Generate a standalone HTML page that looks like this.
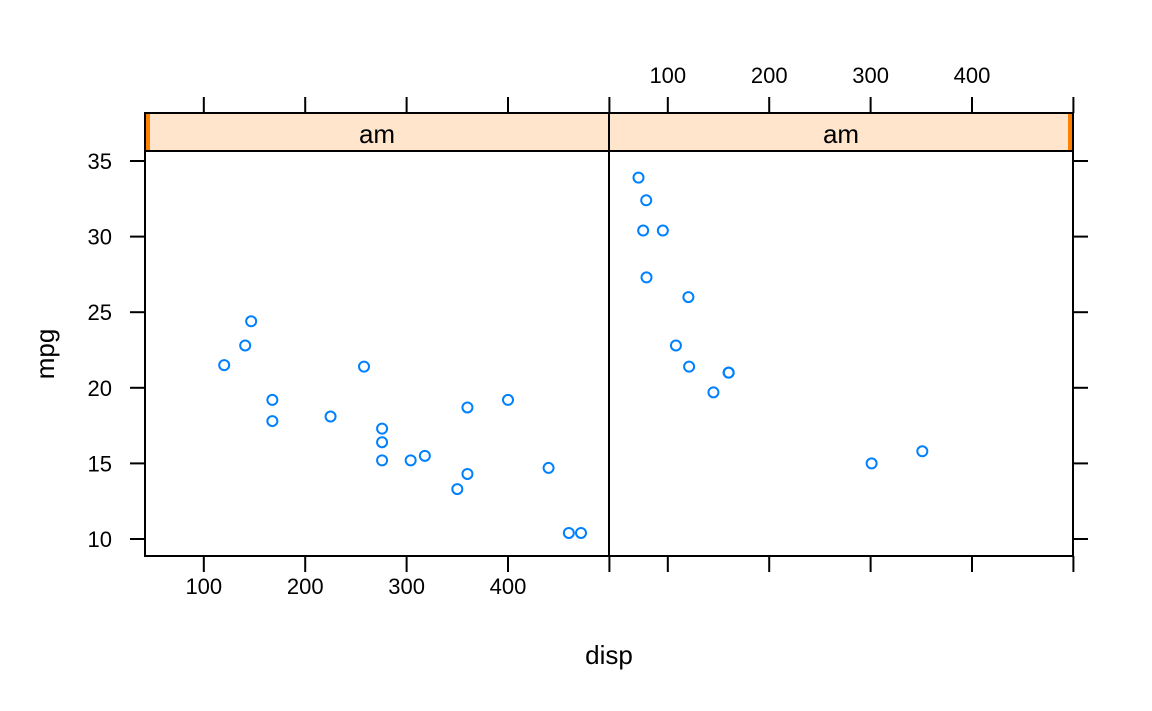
<!DOCTYPE html>
<html><head><meta charset="utf-8"><style>
body{margin:0;background:#fff}
svg{display:block;font-family:"Liberation Sans",Arial,sans-serif}
</style></head><body>
<svg id="c" width="1152" height="711"></svg>
<script>
const autoDisp=[258,360,225,360,146.7,140.8,167.6,167.6,275.8,275.8,275.8,472,460,440,120.1,318,304,350,400];
const autoMpg=[21.4,18.7,18.1,14.3,24.4,22.8,19.2,17.8,16.4,17.3,15.2,10.4,10.4,14.7,21.5,15.5,15.2,13.3,19.2];
const manDisp=[160,160,108,78.7,75.7,71.1,79,120.3,95.1,351,145,301,121];
const manMpg=[21,21,22.8,32.4,30.4,33.9,27.3,26,30.4,15.8,19.7,15,21.4];
const xTicks=[100,200,300,400,500];
const xLabels=["100","200","300","400",""];
const yTicks=[10,15,20,25,30,35];
const panels=[{x0:145,x1:609,disp:autoDisp,mpg:autoMpg,name:'automatic'},{x0:609,x1:1073,disp:manDisp,mpg:manMpg,name:'manual'}];
const panelTop=151,panelBot=556;
const xs=(p,v)=>p.x0+(v-42)*(464/457.6);
const ys=v=>539+(10-v)*15.12;
const svg=document.getElementById('c');
const NS='http://www.w3.org/2000/svg';
function mk(t,a,parent){const e=document.createElementNS(NS,t);for(const k in a)e.setAttribute(k,a[k]);(parent||svg).appendChild(e);return e;}
panels.forEach((p,i)=>{
  const g=mk('g',{});
  
  
  const s=mk('rect',{x:p.x0,y:113,width:p.x1-p.x0,height:38,fill:'#FFE5CC',stroke:'none'},g);
  
  
  mk('rect',{x:i==0?p.x0:p.x1-5,y:113,width:5,height:38,fill:'#FF7F00'},g);
  mk('rect',{x:p.x0,y:113,width:p.x1-p.x0,height:38,fill:'none',stroke:'#000','stroke-width':2},g);
  const st=mk('text',{x:(p.x0+p.x1)/2,y:143,'text-anchor':'middle','font-size':26},g);st.textContent='am';
  
  
  mk('rect',{x:p.x0,y:panelTop,width:p.x1-p.x0,height:panelBot-panelTop,fill:'none',stroke:'#000','stroke-width':2},g);
  xTicks.forEach((t,k)=>{
    const x=xs(p,t);
    mk('line',{x1:x,x2:x,y1:panelBot,y2:572,stroke:'#000','stroke-width':2},g);
    mk('line',{x1:x,x2:x,y1:97,y2:113,stroke:'#000','stroke-width':2},g);
    if(i==0){
      const tl=mk('text',{x:x,y:594,'text-anchor':'middle','font-size':22},g);tl.textContent=xLabels[k];
      
      }
    else{
      const tl=mk('text',{x:x,y:83,'text-anchor':'middle','font-size':22},g);tl.textContent=xLabels[k];
      
      }
  });
  p.disp.forEach((d,k)=>{
    const c=mk('circle',{cx:xs(p,d),cy:ys(p.mpg[k]),r:5,fill:'none',stroke:'#0080FF','stroke-width':2},g);
    
    
  });
});
yTicks.forEach(t=>{
  const y=ys(t);
  mk('line',{x1:130,x2:145,y1:y,y2:y,stroke:'#000','stroke-width':2});
  mk('line',{x1:1073,x2:1088,y1:y,y2:y,stroke:'#000','stroke-width':2});
  const tl=mk('text',{x:112,y:y+8,'text-anchor':'end','font-size':22});tl.textContent=t;
  
  
});
const xl=mk('text',{x:609,y:664,'text-anchor':'middle','font-size':26});xl.textContent='disp';


const yl=mk('text',{x:0,y:0,'text-anchor':'middle','font-size':26,transform:'translate(54,354) rotate(-90)'});yl.textContent='mpg';


</script>
</body></html>
